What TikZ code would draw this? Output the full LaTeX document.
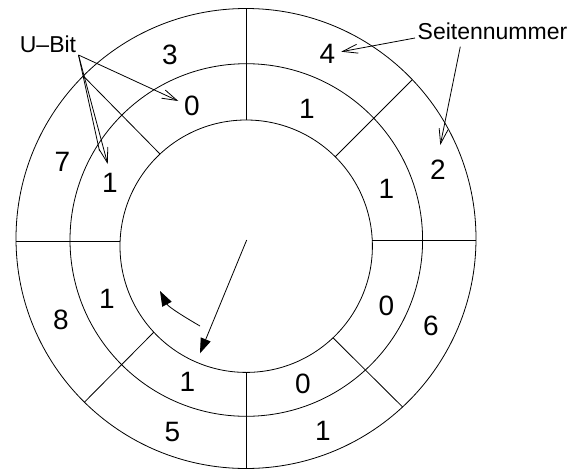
\documentclass[tikz,border=0pt]{standalone}
\usepackage{fontspec}
\setmainfont{Liberation Sans}
\usetikzlibrary{arrows.meta}
\begin{document}
\begin{tikzpicture}[x=1pt,y=-1pt, line width=0.8pt,
  digit/.style={font=\fontsize{28}{28}\selectfont, anchor=base, inner sep=0pt},
  lbl/.style={font=\fontsize{23}{23}\selectfont, anchor=base, inner sep=0pt},
  openhead/.style={-{Straight Barb[length=15pt,width=9pt]}},
  fillhead/.style={-{Triangle[length=15pt,width=10.5pt]}}]
\useasboundingbox (0,0) rectangle (574,469);
% rings
\draw (246,238.5) circle[radius=230pt];
\draw (246.3,240) circle[radius=176.3pt];
\draw (246.2,246.2) circle[radius=126.2pt];
% radial separators
\draw (246.7,8.5) -- (246.7,120);
\draw (412.4,79.6) -- (335.2,156.8);
\draw (476,240.7) -- (372.3,240.7);
\draw (402.6,407) -- (333,337.8);
\draw (246.3,468.5) -- (246.3,372.4);
\draw (84.4,402.2) -- (153.8,332.2);
\draw (16,241) -- (120.1,241);
\draw (83.3,76) -- (160,154);
% outer ring: page numbers
\node[digit] (p3) at (170,64) {3};
\node[digit] (p4) at (327.5,63.3) {4};
\node[digit] (p2) at (438,179.3) {2};
\node[digit] (p6) at (431,335) {6};
\node[digit] (p1) at (323,440) {1};
\node[digit] (p5) at (172.5,441.3) {5};
\node[digit] (p8) at (61,329.2) {8};
\node[digit] (p7) at (62.5,171.8) {7};
% middle ring: U-bits
\node[digit] (u0a) at (192,115) {0};
\node[digit] (u1a) at (307,118.8) {1};
\node[digit] (u1b) at (386.5,198.3) {1};
\node[digit] (u0b) at (386.5,315.3) {0};
\node[digit] (u0c) at (303,393) {0};
\node[digit] (u1c) at (187.5,391.7) {1};
\node[digit] (u1d) at (107,308.3) {1};
\node[digit] (u1e) at (110,192.8) {1};
% labels
\node[lbl] (ubit) at (48,52) {U\textendash Bit};
\node[lbl] (seite) at (492.5,39.5) {Seitennummer};
% connector end points
\coordinate (ubitsrc) at (78.5,55);
\coordinate (tip0) at (178.3,101);
\coordinate (tip1) at (107.7,164);
\coordinate (wing1) at (99.5,151);
\coordinate (seitesrcA) at (415,38);
\coordinate (tip4) at (341.3,51.7);
\coordinate (seitesrcB) at (460.3,46.7);
\coordinate (tip2) at (440.3,145);
% U-Bit arrows
\draw[openhead] (ubitsrc) -- (tip0);
\draw[openhead] (ubitsrc) -- (tip1);
\draw (ubitsrc) -- (wing1);
% Seitennummer arrows
\draw[openhead] (seitesrcA) -- (tip4);
\draw[openhead] (seitesrcB) -- (tip2);
% pointer and rotation direction
\coordinate (ctr) at (246.7,240);
\coordinate (ptip) at (200,353.3);
\draw[fillhead] (ctr) -- (ptip);
\coordinate (rotA) at (200,326);
\coordinate (rotB) at (160,291);
\draw[fillhead] (rotA) .. controls (184.4,317) and (168.4,306.9) .. (rotB);
\end{tikzpicture}
\end{document}
